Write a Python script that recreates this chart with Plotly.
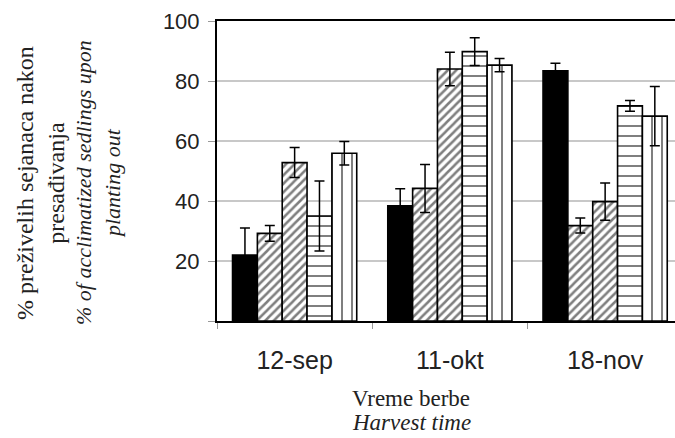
import plotly.graph_objects as go

categories = ["12-sep", "11-okt", "18-nov"]

black_vals = [22.0, 38.4, 83.4]
black_err = [9.0, 5.7, 2.5]
diag1_vals = [29.2, 44.2, 31.8]
diag1_err = [2.6, 8.0, 2.5]
diag2_vals = [52.8, 84.0, 39.8]
diag2_err = [5.0, 5.6, 6.2]
horiz_vals = [35.0, 89.8, 71.7]
horiz_err = [11.7, 4.6, 1.8]
vert_vals = [55.9, 85.3, 68.3]
vert_err = [3.9, 2.2, 9.9]

y_tickvals = [0, 20, 40, 60, 80, 100]
y_ticktext = ["", "20", "40", "60", "80", "100"]

W, H = 675, 438
L, R, T, B = 217, 0, 21, 117

fig = go.Figure()

def add_bar(vals, errs, color, pattern=None):
    marker = dict(color=color, line=dict(color="black", width=1.6))
    if pattern:
        marker["pattern"] = pattern
    fig.add_trace(go.Bar(
        x=categories, y=vals, marker=marker,
        error_y=dict(type="data", array=errs, visible=True,
                     color="black", thickness=1.5, width=5),
        showlegend=False,
    ))

add_bar(black_vals, black_err, "black")
add_bar(diag1_vals, diag1_err, "white",
        dict(shape="/", fgcolor="black", bgcolor="white", size=6, solidity=0.42))
add_bar(diag2_vals, diag2_err, "white",
        dict(shape="/", fgcolor="black", bgcolor="white", size=6, solidity=0.42))
add_bar(horiz_vals, horiz_err, "white",
        dict(shape="-", fgcolor="black", bgcolor="white", size=10, solidity=0.2))
add_bar(vert_vals, vert_err, "white",
        dict(shape="|", fgcolor="black", bgcolor="white", size=10, solidity=0.2))

plot_w = W - L - R
plot_h = H - T - B

def px_x(px):
    return (px - L) / plot_w

def px_y(py):
    return (H - B - py) / plot_h

serif = "Liberation Serif, Times New Roman, serif"

fig.update_layout(
    width=W, height=H,
    margin=dict(l=L, r=R, t=T, b=B, pad=0),
    paper_bgcolor="white", plot_bgcolor="white",
    barmode="group", bargap=0.2, bargroupgap=0,
    font=dict(family="Liberation Sans, Arial", color="#222222"),
    xaxis=dict(
        type="category",
        range=[-0.5, 2.45],
        showline=True, linecolor="black", linewidth=2, mirror=True,
        ticks="outside", tickson="boundaries", ticklen=6, tickcolor="#999999", tickwidth=1,
        tickfont=dict(size=25, family="Liberation Sans, Arial", color="#222222"),
        ticklabelstandoff=16,
        showgrid=False, zeroline=False,
    ),
    yaxis=dict(
        range=[0, 100],
        tickvals=y_tickvals, ticktext=y_ticktext,
        showline=True, linecolor="black", linewidth=2,
        ticks="outside", ticklen=7, tickcolor="#999999", tickwidth=1,
        tickfont=dict(size=22, family="Liberation Sans, Arial", color="#222222"),
        ticklabelstandoff=4,
        showgrid=True, gridcolor="#c8c8c8", gridwidth=1.5,
        zeroline=False,
    ),
    annotations=[
        dict(text="Vreme berbe", xref="paper", yref="paper",
             x=px_x(411), y=px_y(398), xanchor="center", yanchor="middle",
             showarrow=False, font=dict(family=serif, size=23, color="#222222")),
        dict(text="<i>Harvest time</i>", xref="paper", yref="paper",
             x=px_x(411), y=px_y(422), xanchor="center", yanchor="middle",
             showarrow=False, font=dict(family=serif, size=23, color="#222222")),
        dict(text="% preživelih sejanaca nakon<br>presađivanja", xref="paper", yref="paper",
             x=px_x(40), y=px_y(183), xanchor="center", yanchor="middle", textangle=-90,
             showarrow=False, align="center",
             font=dict(family=serif, size=24, color="#222222")),
        dict(text="<i>% of acclimatized sedlings upon<br>planting out</i>", xref="paper", yref="paper",
             x=px_x(98), y=px_y(183), xanchor="center", yanchor="middle", textangle=-90,
             showarrow=False, align="center",
             font=dict(family=serif, size=22, color="#222222")),
    ],
)

fig.write_html("out.html", config={"displayModeBar": False},
               post_script="document.body.style.margin='0';document.body.style.overflow='hidden';")
